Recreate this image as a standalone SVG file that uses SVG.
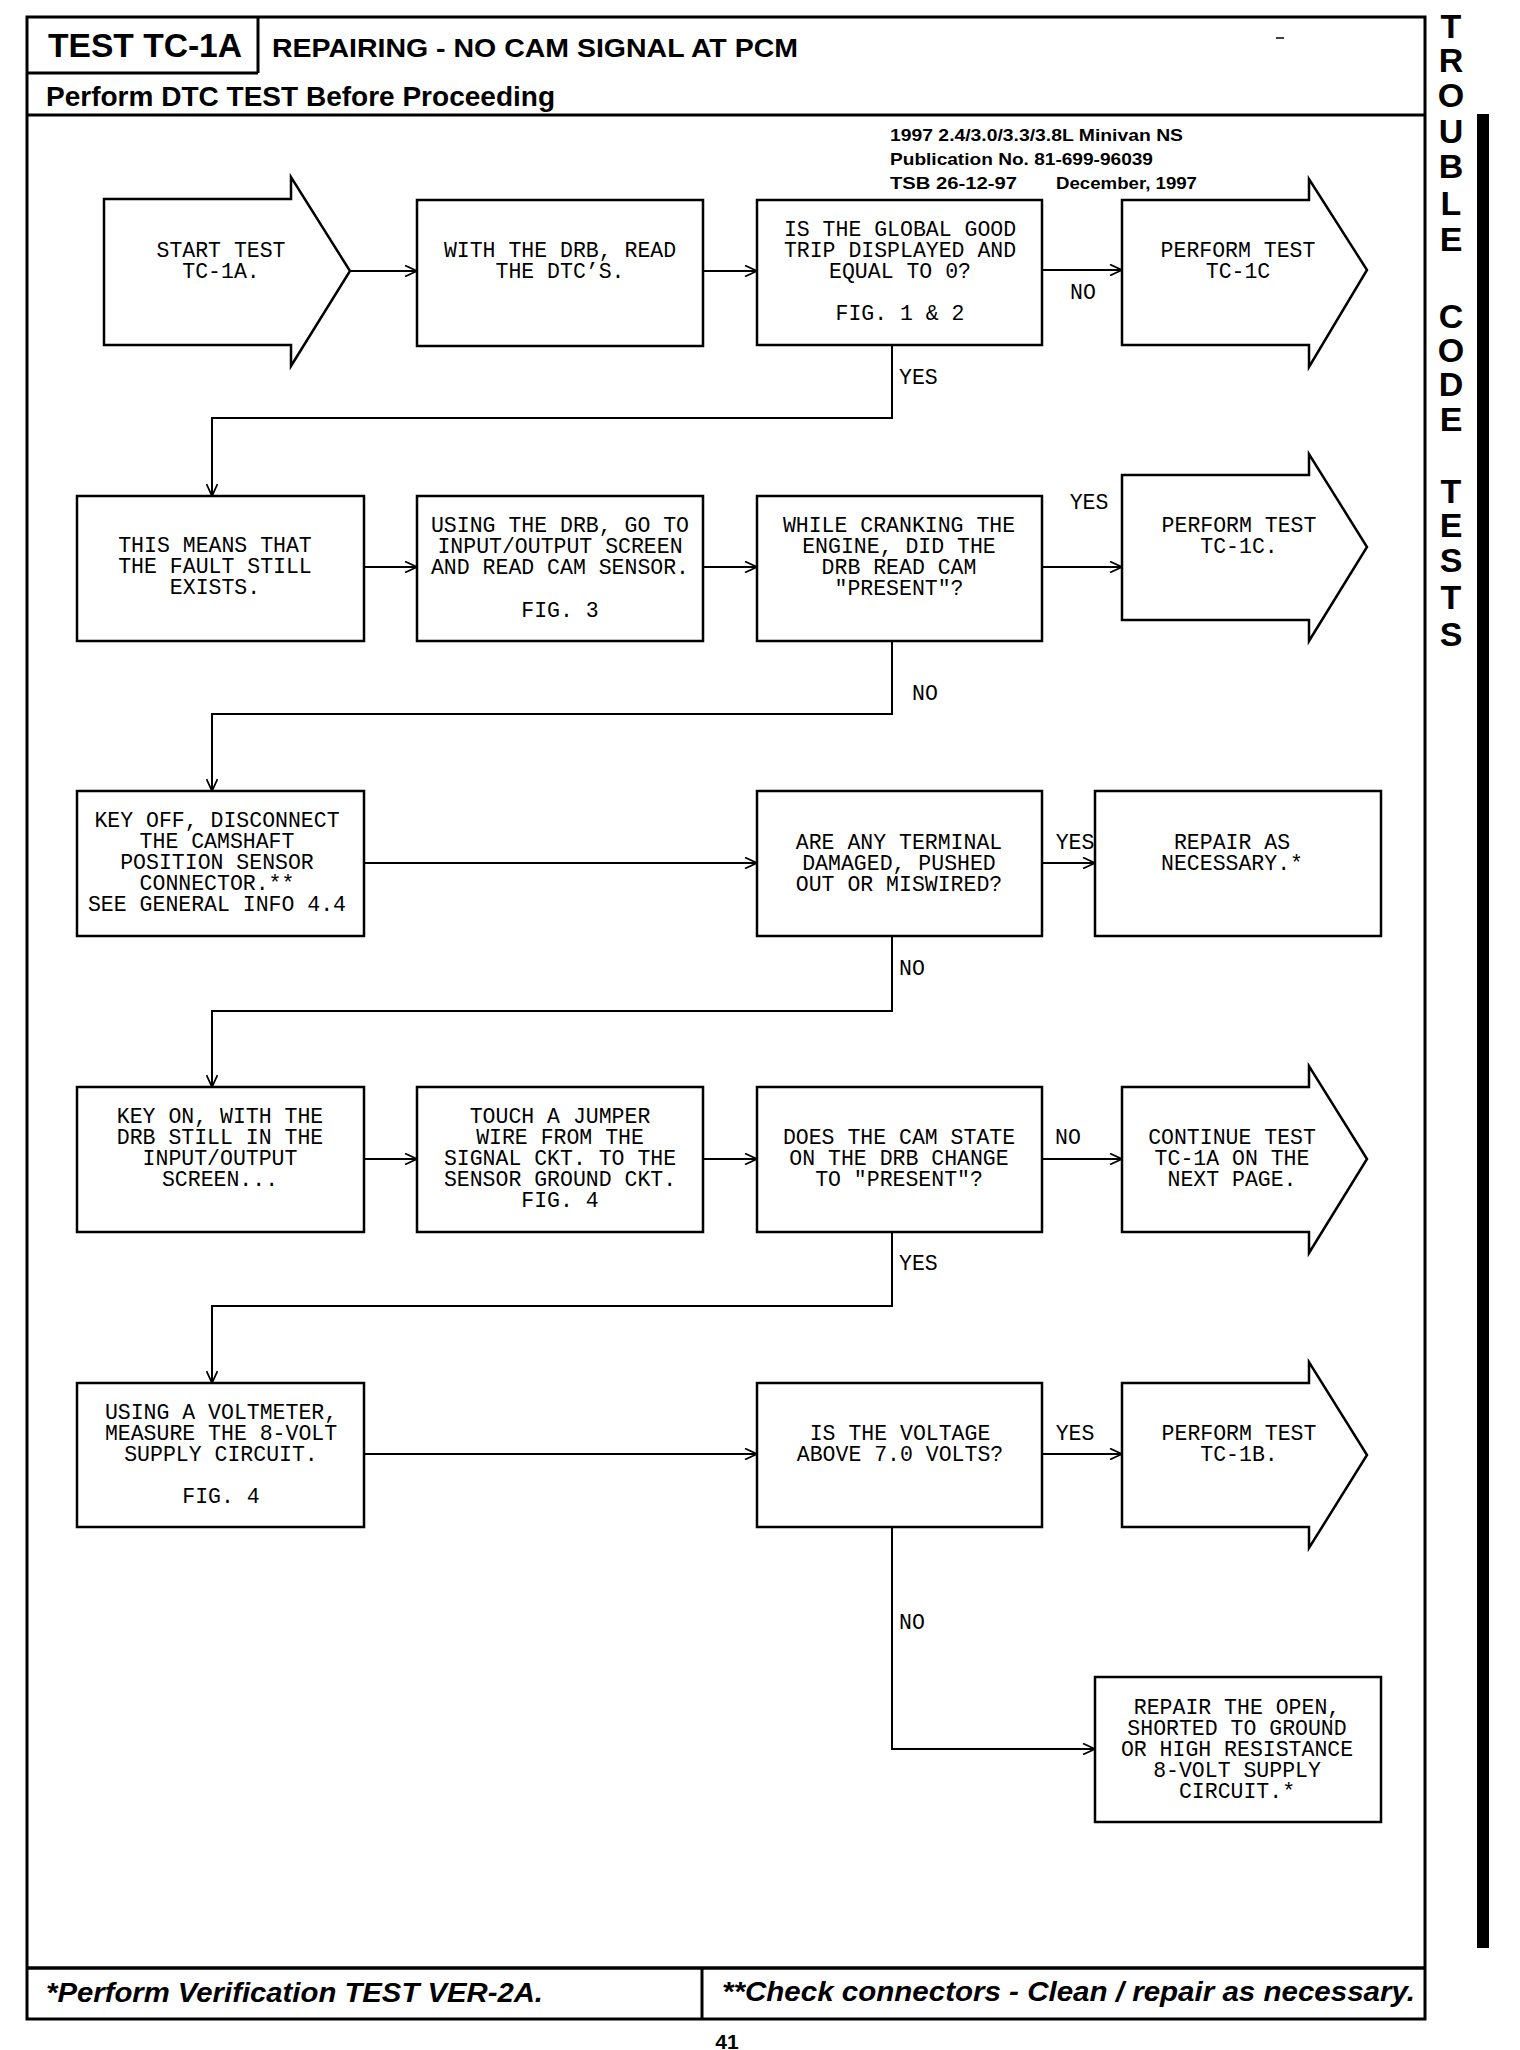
<svg xmlns="http://www.w3.org/2000/svg" width="1520" height="2050" viewBox="0 0 1520 2050">
<defs>
<marker id="ah" viewBox="0 0 14 12" refX="13" refY="6" markerWidth="14" markerHeight="12" markerUnits="userSpaceOnUse" orient="auto"><path d="M1,0.5 L13,6 L1,11.5" fill="none" stroke="#000" stroke-width="1.8"/></marker>
<style>
.box{fill:#fff;stroke:#000;stroke-width:2.5}
.frame{fill:none;stroke:#000;stroke-width:3}
.c{fill:none;stroke:#000;stroke-width:2}
.t{font-family:"Courier New","Liberation Mono",monospace;font-size:21.5px;text-anchor:middle;fill:#000}
.l{font-family:"Courier New","Liberation Mono",monospace;font-size:21.5px;fill:#000}
.lm{font-family:"Courier New","Liberation Mono",monospace;font-size:21.5px;fill:#000;text-anchor:middle}
.h{font-family:"Liberation Sans",Arial,sans-serif;font-weight:bold;fill:#000}
.hi{font-family:"Liberation Sans",Arial,sans-serif;font-weight:bold;font-style:italic;fill:#000}
</style>
</defs>
<rect width="1520" height="2050" fill="#fff"/>

<g id="frame">
<rect class="frame" x="27" y="17" width="1398" height="2002"/>
<line class="frame" x1="258" y1="17" x2="258" y2="73"/>
<line class="frame" x1="27" y1="73" x2="258" y2="73"/>
<line class="frame" x1="27" y1="115" x2="1425" y2="115"/>
<line x1="27" y1="1968" x2="1425" y2="1968" stroke="#000" stroke-width="3.5"/>
<line class="frame" x1="702" y1="1968" x2="702" y2="2019"/>
<line x1="1276" y1="38" x2="1284" y2="38" stroke="#000" stroke-width="1.5"/>
<rect x="1477" y="114" width="12" height="1834" fill="#000"/>
</g>

<g id="header">
<text class="h" x="48" y="57" font-size="33" textLength="194" lengthAdjust="spacingAndGlyphs">TEST TC-1A</text>
<text class="h" x="272" y="57" font-size="25" textLength="526" lengthAdjust="spacingAndGlyphs">REPAIRING - NO CAM SIGNAL AT PCM</text>
<text class="h" x="46" y="106" font-size="28" textLength="509" lengthAdjust="spacingAndGlyphs">Perform DTC TEST Before Proceeding</text>
<text class="h" x="890" y="141" font-size="17" textLength="293" lengthAdjust="spacingAndGlyphs">1997 2.4/3.0/3.3/3.8L Minivan NS</text>
<text class="h" x="890" y="165" font-size="17" textLength="263" lengthAdjust="spacingAndGlyphs">Publication No. 81-699-96039</text>
<text class="h" x="890" y="189" font-size="17" textLength="127" lengthAdjust="spacingAndGlyphs">TSB 26-12-97</text>
<text class="h" x="1056" y="189" font-size="17" textLength="141" lengthAdjust="spacingAndGlyphs">December, 1997</text>
</g>

<g id="sidebar">
<text class="h" font-size="34" text-anchor="middle"><tspan x="1451" y="38">T</tspan><tspan x="1451" y="72">R</tspan><tspan x="1451" y="107">O</tspan><tspan x="1451" y="143">U</tspan><tspan x="1451" y="178">B</tspan><tspan x="1451" y="215">L</tspan><tspan x="1451" y="251">E</tspan><tspan x="1451" y="328">C</tspan><tspan x="1451" y="362">O</tspan><tspan x="1451" y="396">D</tspan><tspan x="1451" y="431">E</tspan><tspan x="1451" y="503">T</tspan><tspan x="1451" y="537">E</tspan><tspan x="1451" y="572">S</tspan><tspan x="1451" y="609">T</tspan><tspan x="1451" y="646">S</tspan></text>
</g>

<g id="connectors">
<line class="c" x1="350" y1="271" x2="417" y2="271" marker-end="url(#ah)"/>
<line class="c" x1="703" y1="271" x2="757" y2="271" marker-end="url(#ah)"/>
<line class="c" x1="1042" y1="270" x2="1122" y2="270" marker-end="url(#ah)"/>
<polyline class="c" points="892,345 892,418 212,418 212,496" marker-end="url(#ah)"/>
<line class="c" x1="364" y1="567" x2="417" y2="567" marker-end="url(#ah)"/>
<line class="c" x1="703" y1="567" x2="757" y2="567" marker-end="url(#ah)"/>
<line class="c" x1="1042" y1="567" x2="1122" y2="567" marker-end="url(#ah)"/>
<polyline class="c" points="892,641 892,714 212,714 212,791" marker-end="url(#ah)"/>
<line class="c" x1="364" y1="863" x2="757" y2="863" marker-end="url(#ah)"/>
<line class="c" x1="1042" y1="863" x2="1095" y2="863" marker-end="url(#ah)"/>
<polyline class="c" points="892,936 892,1011 212,1011 212,1087" marker-end="url(#ah)"/>
<line class="c" x1="364" y1="1159" x2="417" y2="1159" marker-end="url(#ah)"/>
<line class="c" x1="703" y1="1159" x2="757" y2="1159" marker-end="url(#ah)"/>
<line class="c" x1="1042" y1="1159" x2="1122" y2="1159" marker-end="url(#ah)"/>
<polyline class="c" points="892,1232 892,1306 212,1306 212,1383" marker-end="url(#ah)"/>
<line class="c" x1="364" y1="1454" x2="757" y2="1454" marker-end="url(#ah)"/>
<line class="c" x1="1042" y1="1454" x2="1122" y2="1454" marker-end="url(#ah)"/>
<polyline class="c" points="892,1527 892,1749 1095,1749" marker-end="url(#ah)"/>
<text class="lm" x="1083" y="299">NO</text>
<text class="l" x="899" y="384">YES</text>
<text class="lm" x="1089" y="509">YES</text>
<text class="l" x="912" y="700">NO</text>
<text class="lm" x="1075" y="849">YES</text>
<text class="l" x="899" y="975">NO</text>
<text class="lm" x="1068" y="1144">NO</text>
<text class="l" x="899" y="1270">YES</text>
<text class="lm" x="1075" y="1440">YES</text>
<text class="l" x="899" y="1629">NO</text>
</g>

<g id="n1">
<polygon class="box" points="104,199 291,199 291,177 350,271 291,366 291,345 104,345"/>
<text class="t" x="221"><tspan x="221" y="257">START TEST</tspan><tspan x="221" y="278">TC-1A.</tspan></text>
</g>
<g id="n2">
<rect class="box" x="417" y="200" width="286" height="146"/>
<text class="t"><tspan x="560" y="257">WITH THE DRB, READ</tspan><tspan x="560" y="278">THE DTC’S.</tspan></text>
</g>
<g id="n3">
<rect class="box" x="757" y="200" width="285" height="145"/>
<text class="t"><tspan x="900" y="236">IS THE GLOBAL GOOD</tspan><tspan x="900" y="257">TRIP DISPLAYED AND</tspan><tspan x="900" y="278">EQUAL TO 0?</tspan><tspan x="900" y="320">FIG. 1 &amp; 2</tspan></text>
</g>
<g id="n4">
<polygon class="box" points="1122,200 1309,200 1309,179 1367,270 1309,367 1309,345 1122,345"/>
<text class="t"><tspan x="1238" y="257">PERFORM TEST</tspan><tspan x="1238" y="278">TC-1C</tspan></text>
</g>

<g id="n5">
<rect class="box" x="77" y="496" width="287" height="145"/>
<text class="t"><tspan x="215" y="552">THIS MEANS THAT</tspan><tspan x="215" y="573">THE FAULT STILL</tspan><tspan x="215" y="594">EXISTS.</tspan></text>
</g>
<g id="n6">
<rect class="box" x="417" y="496" width="286" height="145"/>
<text class="t"><tspan x="560" y="532">USING THE DRB, GO TO</tspan><tspan x="560" y="553">INPUT/OUTPUT SCREEN</tspan><tspan x="560" y="574">AND READ CAM SENSOR.</tspan><tspan x="560" y="617">FIG. 3</tspan></text>
</g>
<g id="n7">
<rect class="box" x="757" y="496" width="285" height="145"/>
<text class="t"><tspan x="899" y="532">WHILE CRANKING THE</tspan><tspan x="899" y="553">ENGINE, DID THE</tspan><tspan x="899" y="574">DRB READ CAM</tspan><tspan x="899" y="595">"PRESENT"?</tspan></text>
</g>
<g id="n8">
<polygon class="box" points="1122,475 1309,475 1309,454 1367,547 1309,641 1309,620 1122,620"/>
<text class="t"><tspan x="1239" y="532">PERFORM TEST</tspan><tspan x="1239" y="553">TC-1C.</tspan></text>
</g>

<g id="n9">
<rect class="box" x="77" y="791" width="287" height="145"/>
<text class="t"><tspan x="217" y="827">KEY OFF, DISCONNECT</tspan><tspan x="217" y="848">THE CAMSHAFT</tspan><tspan x="217" y="869">POSITION SENSOR</tspan><tspan x="217" y="890">CONNECTOR.**</tspan><tspan x="217" y="911">SEE GENERAL INFO 4.4</tspan></text>
</g>
<g id="n10">
<rect class="box" x="757" y="791" width="285" height="145"/>
<text class="t"><tspan x="899" y="849">ARE ANY TERMINAL</tspan><tspan x="899" y="870">DAMAGED, PUSHED</tspan><tspan x="899" y="891">OUT OR MISWIRED?</tspan></text>
</g>
<g id="n11">
<rect class="box" x="1095" y="791" width="286" height="145"/>
<text class="t"><tspan x="1232" y="849">REPAIR AS</tspan><tspan x="1232" y="870">NECESSARY.*</tspan></text>
</g>

<g id="n12">
<rect class="box" x="77" y="1087" width="287" height="145"/>
<text class="t"><tspan x="220" y="1123">KEY ON, WITH THE</tspan><tspan x="220" y="1144">DRB STILL IN THE</tspan><tspan x="220" y="1165">INPUT/OUTPUT</tspan><tspan x="220" y="1186">SCREEN...</tspan></text>
</g>
<g id="n13">
<rect class="box" x="417" y="1087" width="286" height="145"/>
<text class="t"><tspan x="560" y="1123">TOUCH A JUMPER</tspan><tspan x="560" y="1144">WIRE FROM THE</tspan><tspan x="560" y="1165">SIGNAL CKT. TO THE</tspan><tspan x="560" y="1186">SENSOR GROUND CKT.</tspan><tspan x="560" y="1207">FIG. 4</tspan></text>
</g>
<g id="n14">
<rect class="box" x="757" y="1087" width="285" height="145"/>
<text class="t"><tspan x="899" y="1144">DOES THE CAM STATE</tspan><tspan x="899" y="1165">ON THE DRB CHANGE</tspan><tspan x="899" y="1186">TO "PRESENT"?</tspan></text>
</g>
<g id="n15">
<polygon class="box" points="1122,1087 1309,1087 1309,1066 1367,1159 1309,1253 1309,1232 1122,1232"/>
<text class="t"><tspan x="1232" y="1144">CONTINUE TEST</tspan><tspan x="1232" y="1165">TC-1A ON THE</tspan><tspan x="1232" y="1186">NEXT PAGE.</tspan></text>
</g>

<g id="n16">
<rect class="box" x="77" y="1383" width="287" height="144"/>
<text class="t"><tspan x="221" y="1419">USING A VOLTMETER,</tspan><tspan x="221" y="1440">MEASURE THE 8-VOLT</tspan><tspan x="221" y="1461">SUPPLY CIRCUIT.</tspan><tspan x="221" y="1503">FIG. 4</tspan></text>
</g>
<g id="n17">
<rect class="box" x="757" y="1383" width="285" height="144"/>
<text class="t"><tspan x="900" y="1440">IS THE VOLTAGE</tspan><tspan x="900" y="1461">ABOVE 7.0 VOLTS?</tspan></text>
</g>
<g id="n18">
<polygon class="box" points="1122,1383 1309,1383 1309,1362 1367,1455 1309,1548 1309,1527 1122,1527"/>
<text class="t"><tspan x="1239" y="1440">PERFORM TEST</tspan><tspan x="1239" y="1461">TC-1B.</tspan></text>
</g>
<g id="n19">
<rect class="box" x="1095" y="1677" width="286" height="145"/>
<text class="t"><tspan x="1237" y="1714">REPAIR THE OPEN,</tspan><tspan x="1237" y="1735">SHORTED TO GROUND</tspan><tspan x="1237" y="1756">OR HIGH RESISTANCE</tspan><tspan x="1237" y="1777">8-VOLT SUPPLY</tspan><tspan x="1237" y="1798">CIRCUIT.*</tspan></text>
</g>

<g id="footer">
<text class="hi" x="46" y="2002" font-size="27" textLength="497" lengthAdjust="spacingAndGlyphs">*Perform Verification TEST VER-2A.</text>
<text class="hi" x="722" y="2001" font-size="27" textLength="693" lengthAdjust="spacingAndGlyphs">**Check connectors - Clean / repair as necessary.</text>
<text class="h" x="727" y="2049" font-size="21" text-anchor="middle">41</text>
</g>
</svg>
